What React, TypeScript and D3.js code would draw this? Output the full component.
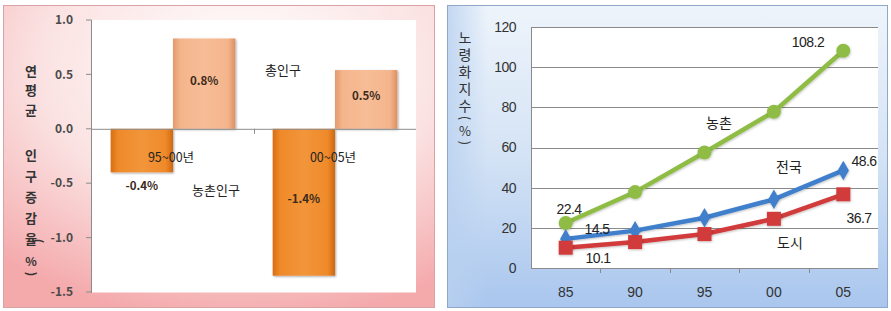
import React from "react";
import * as d3 from "d3";

// ---------- Left chart data ----------
const periods = ["95~00년", "00~05년"];
const barSeries = ["농촌인구", "총인구"];
const ruralGrowth = [-0.4, -1.35];
const totalGrowth = [0.83, 0.54];
const leftTicks = [1.0, 0.5, 0.0, -0.5, -1.0, -1.5];
const leftTitleTop = ["연", "평", "균"];
const leftTitleBottom = ["인", "구", "증", "감", "율"];

// ---------- Right chart data ----------
const years = ["85", "90", "95", "00", "05"];
const ruralAging = [22.4, 37.8, 57.5, 77.8, 108.2];
const nationAging = [14.5, 18.6, 25.0, 34.2, 48.6];
const cityAging = [10.1, 12.9, 16.9, 24.5, 36.7];
const rightTicks = [0, 20, 40, 60, 80, 100, 120];
const rightTitle = "노령화지수";

const KR = "'Noto Sans CJK KR', 'Noto Sans', sans-serif";
const GUL = "'Liberation Sans', 'Noto Sans CJK KR', sans-serif";

export default function App() {
  // Left scales
  const lx = d3.scaleBand<string>().domain(periods).range([92, 416]);
  const lxi = d3
    .scaleBand<string>()
    .domain(barSeries)
    .range([0, lx.bandwidth()])
    .paddingInner(0)
    .paddingOuter(0.3);
  const ly = d3.scaleLinear().domain([-1.5, 1.0]).range([292, 20]);

  // Right scales
  const rx = d3.scalePoint<string>().domain(years).range([531, 878]).padding(0.5);
  const rxBand = d3.scaleBand<string>().domain(years).range([531, 878]);
  const ry = d3.scaleLinear().domain([0, 120]).range([268, 27]);
  const line = d3
    .line<number>()
    .x((_, i) => rx(years[i]) as number)
    .y((d) => ry(d));

  const bars: { s: string; vals: number[]; fill: string }[] = [
    { s: barSeries[0], vals: ruralGrowth, fill: "url(#gRural)" },
    { s: barSeries[1], vals: totalGrowth, fill: "url(#gTotal)" },
  ];

  const sym = d3.symbol();

  return (
    <svg
      width={891}
      height={311}
      style={{ position: "absolute", left: 0, top: 0, background: "#fff" }}
    >
      <defs>
        <radialGradient id="pinkBg" cx="0.55" cy="0.2" r="0.85">
          <stop offset="0" stopColor="#ffffff" />
          <stop offset="0.55" stopColor="#fbe2e2" />
          <stop offset="1" stopColor="#f4a9ab" />
        </radialGradient>
        <linearGradient id="blueBg" x1="0" y1="0" x2="0" y2="1">
          <stop offset="0" stopColor="#eef4fb" />
          <stop offset="0.5" stopColor="#d4e3f5" />
          <stop offset="1" stopColor="#a9c6ee" />
        </linearGradient>
        <linearGradient id="blueSide" x1="0" y1="0" x2="1" y2="0">
          <stop offset="0" stopColor="#b9d1f0" stopOpacity="0.8" />
          <stop offset="1" stopColor="#b9d1f0" stopOpacity="0" />
        </linearGradient>
        <linearGradient id="gRural" x1="0" y1="0" x2="1" y2="0">
          <stop offset="0" stopColor="#d86d12" />
          <stop offset="0.12" stopColor="#ef8a2a" />
          <stop offset="0.5" stopColor="#f2953a" />
          <stop offset="0.88" stopColor="#ef8a2a" />
          <stop offset="1" stopColor="#cf6810" />
        </linearGradient>
        <linearGradient id="gTotal" x1="0" y1="0" x2="1" y2="0">
          <stop offset="0" stopColor="#e39a6c" />
          <stop offset="0.12" stopColor="#f4b58c" />
          <stop offset="0.5" stopColor="#f7bd96" />
          <stop offset="0.88" stopColor="#f4b58c" />
          <stop offset="1" stopColor="#dc9162" />
        </linearGradient>
        <filter id="shadow" x="-20%" y="-20%" width="140%" height="140%">
          <feDropShadow dx="1" dy="1" stdDeviation="1.2" floodColor="#000" floodOpacity="0.35" />
        </filter>
        <filter id="soft" x="-20%" y="-20%" width="140%" height="140%">
          <feDropShadow dx="0.5" dy="1" stdDeviation="1" floodColor="#000" floodOpacity="0.25" />
        </filter>
      </defs>

      {/* ================= LEFT PANEL ================= */}
      <rect x={3.5} y={5.5} width={431} height={302} fill="url(#pinkBg)" stroke="#d9a3a5" />
      <rect x={92} y={20} width={324} height={272.5} fill="#ffffff" />

      {/* y axis */}
      <line x1={91.5} x2={91.5} y1={20} y2={293} stroke="#8c8c8c" />
      {leftTicks.map((t) => (
        <g key={t}>
          <line x1={86} x2={91.5} y1={ly(t)} y2={ly(t)} stroke="#8c8c8c" />
          <text
            x={73}
            y={ly(t)}
            dy="0.35em"
            textAnchor="end"
            fontFamily={KR}
            fontWeight={700}
            fontSize={12}
            fill="#4a4a4a"
          >
            {t.toFixed(1)}
          </text>
        </g>
      ))}

      {/* bars */}
      {bars.map((b) =>
        b.vals.map((v, i) => {
          const x0 = (lx(periods[i]) as number) + (lxi(b.s) as number);
          const w = lxi.bandwidth();
          const y0 = Math.min(ly(0), ly(v));
          const h = Math.abs(ly(v) - ly(0));
          return (
            <rect
              key={b.s + i}
              x={x0}
              y={y0}
              width={w}
              height={h}
              fill={b.fill}
              filter="url(#shadow)"
            />
          );
        })
      )}

      {/* zero line */}
      <line x1={91.5} x2={416} y1={ly(0) + 0.5} y2={ly(0) + 0.5} stroke="#8c8c8c" />
      <line
        x1={(lx(periods[1]) as number) + 0.5}
        x2={(lx(periods[1]) as number) + 0.5}
        y1={ly(0)}
        y2={ly(0) + 5}
        stroke="#8c8c8c"
      />

      {/* bar value labels */}
      {bars.map((b) =>
        b.vals.map((v, i) => {
          const cx = (lx(periods[i]) as number) + (lxi(b.s) as number) + lxi.bandwidth() / 2;
          const h = Math.abs(ly(v) - ly(0));
          const cy = h < 50 ? ly(v) + 14 : (ly(v) + ly(0)) / 2 - 3;
          return (
            <text
              key={"l" + b.s + i}
              x={cx}
              y={cy}
              dy="0.35em"
              textAnchor="middle"
              fontFamily={KR}
              fontWeight={700}
              fontSize={11.5}
              fill="#3b2a1c"
            >
              {v.toFixed(1) + "%"}
            </text>
          );
        })
      )}

      {/* category labels */}
      {periods.map((p) => (
        <text
          key={p}
          x={(lx(p) as number) + lx.bandwidth() / 2 - 2}
          y={158}
          dy="0.35em"
          textAnchor="middle"
          fontFamily={KR}
          fontSize={12.5}
          fill="#222"
        >
          {p}
        </text>
      ))}

      {/* series annotations */}
      <text x={283} y={70} dy="0.35em" textAnchor="middle" fontFamily={KR} fontSize={13} fill="#222">
        {barSeries[1]}
      </text>
      <text x={216} y={190} dy="0.35em" textAnchor="middle" fontFamily={KR} fontSize={13} fill="#222">
        {barSeries[0]}
      </text>

      {/* left y title */}
      {leftTitleTop.map((c, i) => (
        <text
          key={"t" + i}
          x={31}
          y={71 + i * 19.5}
          dy="0.35em"
          textAnchor="middle"
          fontFamily={KR}
          fontWeight={700}
          fontSize={13}
          fill="#333"
        >
          {c}
        </text>
      ))}
      {leftTitleBottom.map((c, i) => (
        <text
          key={"b" + i}
          x={31}
          y={155 + i * 21}
          dy="0.35em"
          textAnchor="middle"
          fontFamily={KR}
          fontWeight={700}
          fontSize={13}
          fill="#333"
        >
          {c}
        </text>
      ))}
      <text
        transform={`translate(38,241) rotate(90)`}
        textAnchor="middle"
        dy="0.35em"
        fontFamily={KR}
        fontWeight={700}
        fontSize={12}
        fill="#333"
      >
        (
      </text>
      <text x={31} y={262} dy="0.35em" textAnchor="middle" fontFamily={KR} fontWeight={700} fontSize={12} fill="#333">
        %
      </text>
      <text
        transform={`translate(31,274) rotate(90)`}
        textAnchor="middle"
        dy="0.35em"
        fontFamily={KR}
        fontWeight={700}
        fontSize={12}
        fill="#333"
      >
        )
      </text>

      {/* ================= RIGHT PANEL ================= */}
      <rect x={447.5} y={5.5} width={440} height={302} fill="url(#blueBg)" stroke="#8fa8c8" />
      <rect x={448} y={6} width={40} height={301} fill="url(#blueSide)" />
      <rect x={531} y={27} width={347} height={241} fill="#ffffff" />

      {/* gridlines */}
      {rightTicks.map((t) => (
        <g key={t}>
          <line x1={531} x2={878} y1={Math.round(ry(t)) + 0.5} y2={Math.round(ry(t)) + 0.5} stroke="#8a8a8a" />
          <text
            x={516}
            y={ry(t)}
            dy="0.35em"
            textAnchor="end"
            fontFamily={GUL}
            fontSize={14}
            fill="#333"
            style={{ letterSpacing: "-0.5px" }}
          >
            {t}
          </text>
        </g>
      ))}
      <line x1={531.5} x2={531.5} y1={27} y2={268.5} stroke="#8a8a8a" />
      {years.slice(1).map((y) => (
        <line
          key={"tk" + y}
          x1={Math.round(rxBand(y) as number) + 0.5}
          x2={Math.round(rxBand(y) as number) + 0.5}
          y1={268}
          y2={273}
          stroke="#8a8a8a"
        />
      ))}
      {years.map((y) => (
        <text
          key={"x" + y}
          x={rx(y) as number}
          y={292}
          dy="0.35em"
          textAnchor="middle"
          fontFamily={GUL}
          fontSize={14}
          fill="#333"
        >
          {y}
        </text>
      ))}

      {/* lines */}
      <path d={line(ruralAging) as string} fill="none" stroke="#8fbc45" strokeWidth={4.5} filter="url(#soft)" />
      <path d={line(nationAging) as string} fill="none" stroke="#3f7fcc" strokeWidth={4.5} filter="url(#soft)" />
      <path d={line(cityAging) as string} fill="none" stroke="#d23b3b" strokeWidth={4.5} filter="url(#soft)" />

      {ruralAging.map((v, i) => (
        <circle key={"g" + i} cx={rx(years[i]) as number} cy={ry(v)} r={7} fill="#8fbc45" filter="url(#soft)" />
      ))}
      {nationAging.map((v, i) => (
        <path
          key={"d" + i}
          transform={`translate(${rx(years[i])},${ry(v)})`}
          d={sym.type(d3.symbolDiamond).size(110)() as string}
          fill="#3f7fcc"
          filter="url(#soft)"
        />
      ))}
      {cityAging.map((v, i) => (
        <rect
          key={"s" + i}
          x={(rx(years[i]) as number) - 7}
          y={ry(v) - 7}
          width={14}
          height={14}
          fill="#d23b3b"
          filter="url(#soft)"
        />
      ))}

      {/* data labels */}
      <g fontFamily={GUL} fontSize={14} fill="#222" style={{ letterSpacing: "-0.5px" }}>
        <text x={569} y={209} dy="0.35em" textAnchor="middle">{ruralAging[0].toFixed(1)}</text>
        <text x={808} y={42} dy="0.35em" textAnchor="middle">{ruralAging[4].toFixed(1)}</text>
        <text x={597} y={229} dy="0.35em" textAnchor="middle">{nationAging[0].toFixed(1)}</text>
        <text x={864} y={161} dy="0.35em" textAnchor="middle">{nationAging[4].toFixed(1)}</text>
        <text x={598} y={258} dy="0.35em" textAnchor="middle">{cityAging[0].toFixed(1)}</text>
        <text x={859} y={218} dy="0.35em" textAnchor="middle">{cityAging[4].toFixed(1)}</text>
      </g>
      <g fontFamily={KR} fontSize={14} fill="#222" textAnchor="middle">
        <text x={719} y={123} dy="0.35em">농촌</text>
        <text x={789} y={167} dy="0.35em">전국</text>
        <text x={790} y={243} dy="0.35em">도시</text>
      </g>

      {/* right y title (vertical writing) */}
      <text
        x={465}
        y={31}
        fontFamily={KR}
        fontSize={14}
        fill="#333"
        style={{ writingMode: "vertical-rl", textOrientation: "upright", letterSpacing: "3px" } as any}
      >
        {rightTitle}
      </text>
      <text transform="translate(465,118) rotate(90)" textAnchor="middle" dy="0.35em" fontFamily={KR} fontSize={13} fill="#333">
        (
      </text>
      <text x={465} y={131} dy="0.35em" textAnchor="middle" fontFamily={KR} fontSize={13} fill="#333">
        %
      </text>
      <text transform="translate(465,143) rotate(90)" textAnchor="middle" dy="0.35em" fontFamily={KR} fontSize={13} fill="#333">
        )
      </text>
    </svg>
  );
}
